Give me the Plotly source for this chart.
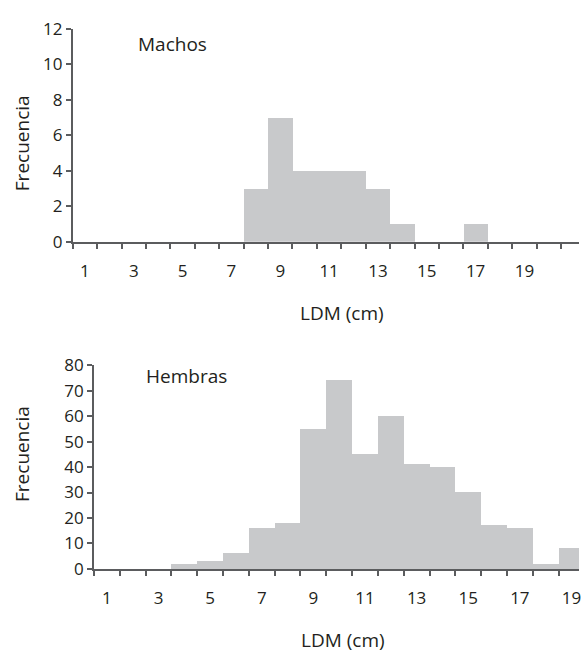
import plotly.graph_objects as go

# ---- data ----
male_bins = list(range(1, 21))
male_freq = [0, 0, 0, 0, 0, 0, 0, 3, 7, 4, 4, 4, 3, 1, 0, 0, 1, 0, 0, 0]
female_bins = list(range(1, 20))
female_freq = [0, 0, 0, 2, 3, 6, 16, 18, 55, 74, 45, 60, 41, 40, 30, 17, 16, 2, 8]
x_tick_labels = [1, 3, 5, 7, 9, 11, 13, 15, 17, 19]
male_y_ticks = [0, 2, 4, 6, 8, 10, 12]
female_y_ticks = [0, 10, 20, 30, 40, 50, 60, 70, 80]

W, H = 581, 660
BAR = "#c8c9cb"
AX = "#5b5c5e"
TXT = "#231f20"
FONT = "Open Sans"

fig = go.Figure()
fig.add_trace(go.Bar(x=male_bins, y=male_freq, width=1, marker=dict(color=BAR, line=dict(width=0)),
                     xaxis="x", yaxis="y", showlegend=False))
fig.add_trace(go.Bar(x=female_bins, y=female_freq, width=1, marker=dict(color=BAR, line=dict(width=0)),
                     xaxis="x2", yaxis="y2", showlegend=False))

def px_x(p):
    return p / W

def px_y(p):
    return 1 - p / H

top_left, top_y0, top_y12 = 73.0, 238.0, 17.5
bot_left, bot_y0, bot_y80 = 94.3, 577.0, 366.0
top_cw, bot_cw = 24.5, 25.9

xcommon = dict(
    showline=True, linecolor=AX, linewidth=1.8, showgrid=False, zeroline=False,
    tickmode="array", tickvals=x_tick_labels, ticks="",
    tickfont=dict(family=FONT, size=17, color=TXT),
    ticklabelstandoff=13, ticklabeloverflow="allow",
)
ycommon = dict(
    showline=True, linecolor=AX, linewidth=1.8, showgrid=False, zeroline=False,
    ticks="outside", ticklen=5, tickwidth=1.5, tickcolor=AX,
    tickfont=dict(family=FONT, size=17, color=TXT),
)

fig.update_layout(
    width=W, height=H,
    margin=dict(l=0, r=0, t=0, b=0),
    paper_bgcolor="white", plot_bgcolor="white",
    bargap=0,
    xaxis=dict(**xcommon, domain=[px_x(top_left), 1], anchor="y",
               range=[0.5, 0.5 + (W - top_left) / top_cw],
               minor=dict(tickmode="array", tickvals=[i + 0.5 for i in range(0, 22)],
                          ticks="outside", ticklen=5, tickwidth=1.5, tickcolor=AX, showgrid=False)),
    yaxis=dict(**ycommon, domain=[px_y(top_y0), px_y(top_y12)], anchor="x",
               range=[0, 12], tickmode="array", tickvals=male_y_ticks),
    xaxis2=dict(**xcommon, domain=[px_x(bot_left), 1], anchor="y2",
                range=[0.5, 0.5 + (W - bot_left) / bot_cw],
                minor=dict(tickmode="array", tickvals=[i + 0.5 for i in range(0, 20)],
                           ticks="outside", ticklen=5, tickwidth=1.5, tickcolor=AX, showgrid=False)),
    yaxis2=dict(**ycommon, domain=[px_y(bot_y0), px_y(bot_y80)], anchor="x2",
                range=[0, 80], tickmode="array", tickvals=female_y_ticks),
)

def ann(text, x, y, xanchor="center", angle=0, size=19):
    fig.add_annotation(text=text, x=px_x(x), y=px_y(y), xref="paper", yref="paper",
                       xanchor=xanchor, yanchor="middle", showarrow=False, textangle=angle,
                       font=dict(family=FONT, size=size, color=TXT))

ann("Machos", 136.5, 33.5, xanchor="left")
ann("Hembras", 144.0, 377.5, xanchor="left")
ann("Frecuencia", 22, 136, angle=-90)
ann("Frecuencia", 22, 458, angle=-90)
ann("LDM (cm)", 343.5, 311.5)
ann("LDM (cm)", 344.0, 650.5)

fig.write_html("out.html")
